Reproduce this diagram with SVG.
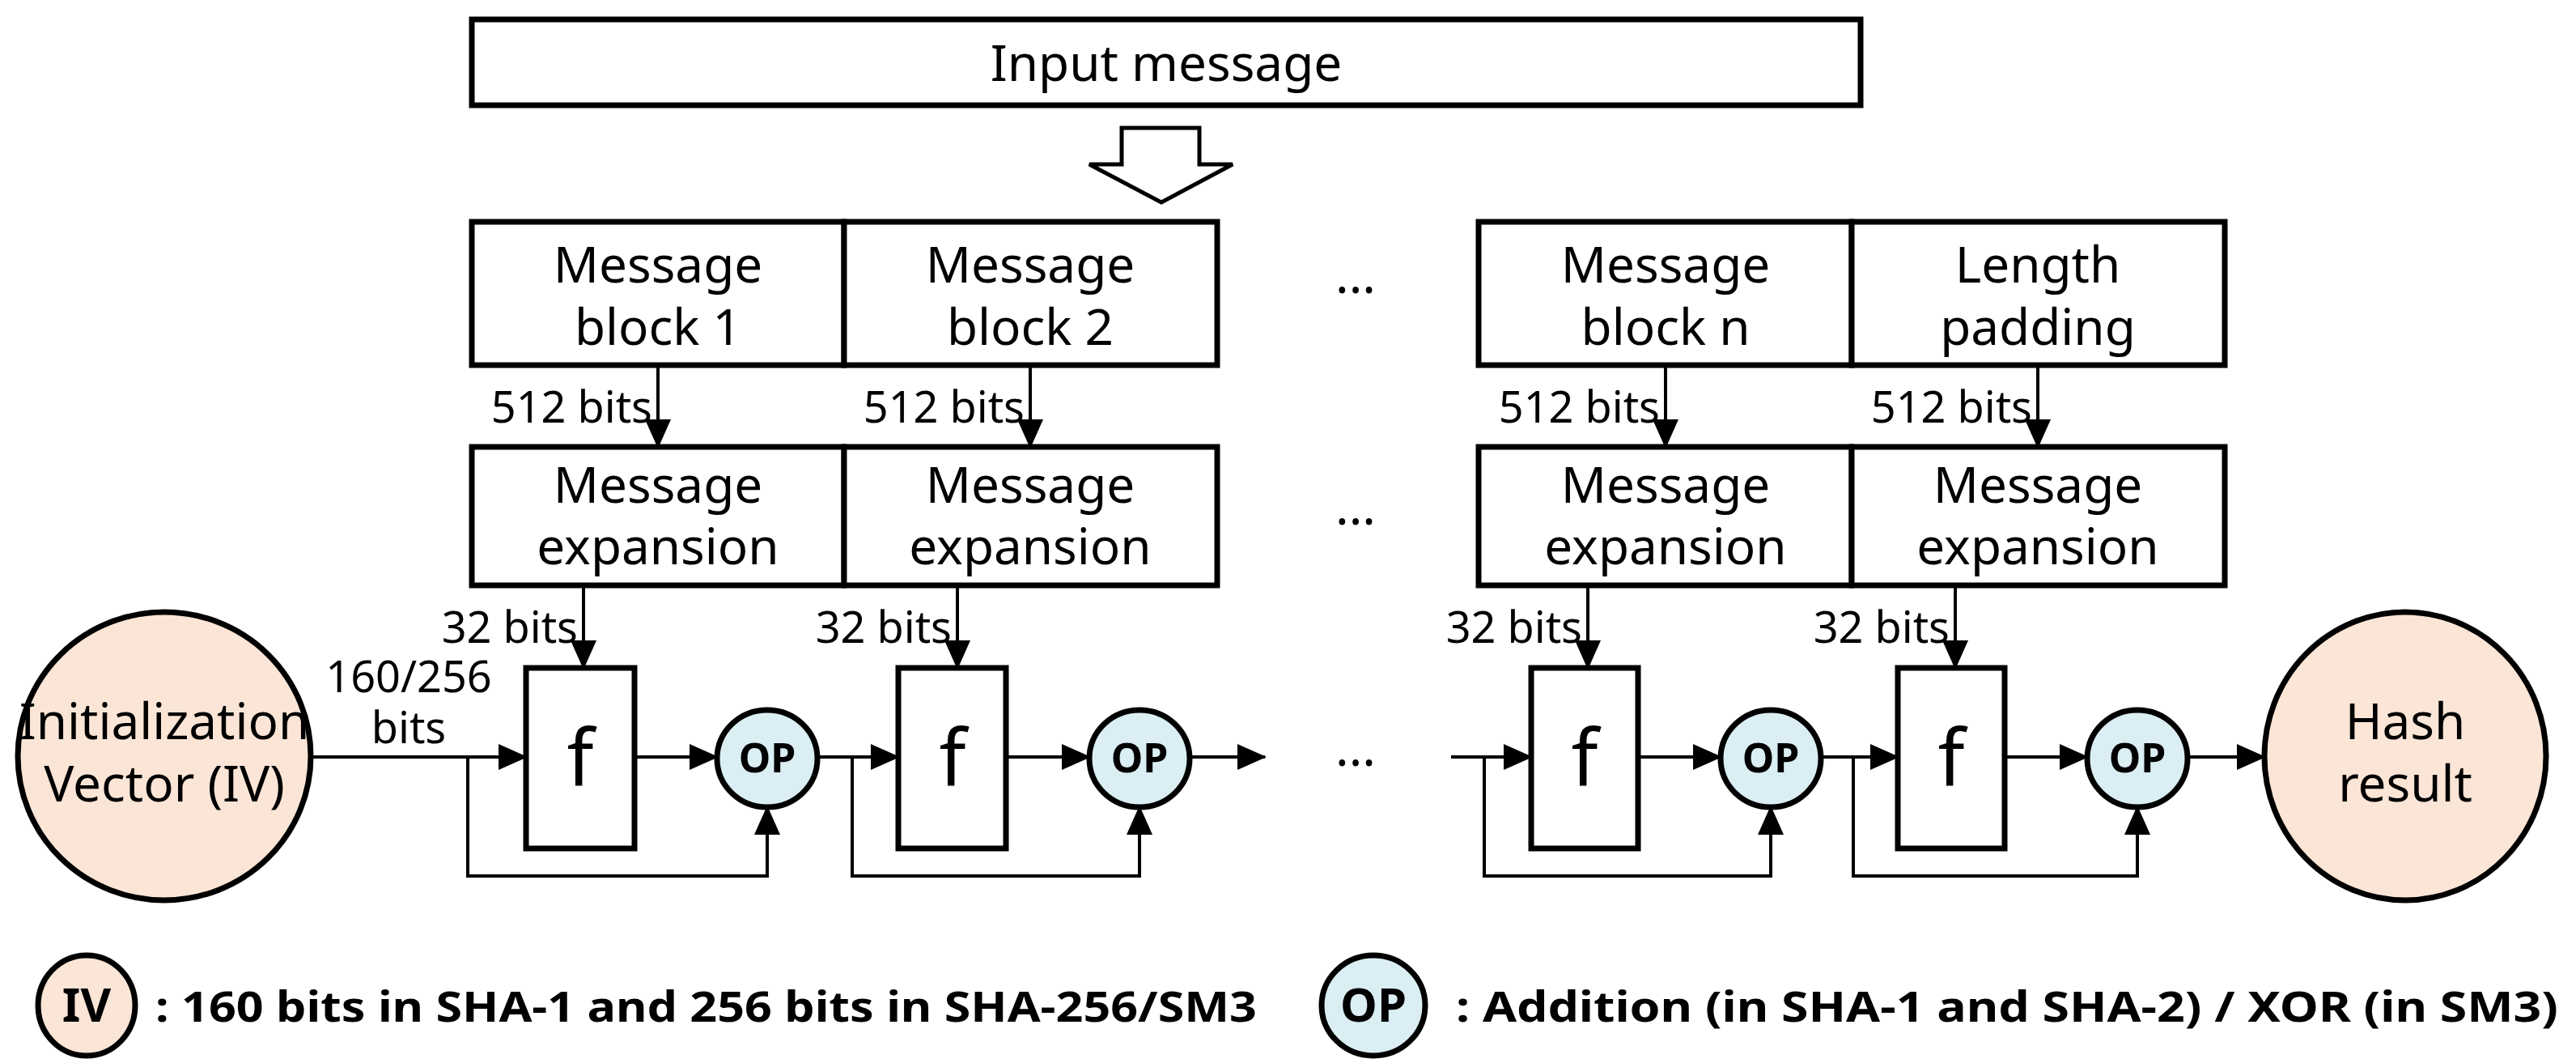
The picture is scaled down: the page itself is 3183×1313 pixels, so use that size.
<svg xmlns="http://www.w3.org/2000/svg" width="3183" height="1313" viewBox="0 0 3183 1313">
<style>
text{font-family:"Noto Sans","Open Sans","Liberation Sans",sans-serif;fill:#000;text-anchor:middle}
.box{fill:#fff;stroke:#000;stroke-width:7}
.big{font-size:62px}
.lbl{font-size:54px;text-anchor:end}
.op{fill:#daeef3;stroke:#000;stroke-width:7}
.iv{fill:#fbe5d6;stroke:#000;stroke-width:7}
.opt{font-size:50px;font-weight:bold}
.lgt{font-size:58px;font-weight:bold}
.ln{fill:none;stroke:#000;stroke-width:4}
.leg{font-size:52px;font-weight:bold;text-anchor:start}
</style>
<defs>
<marker id="ah" markerUnits="userSpaceOnUse" markerWidth="36" markerHeight="32" refX="34" refY="16" orient="auto">
<path d="M0,0 L36,16 L0,32 Z" fill="#000"/>
</marker>
</defs>
<g id="input">
<rect class="box" x="583" y="24" width="1716" height="106"/>
<text class="big" x="1441" y="100" font-size="66">Input message</text>
</g>
<g id="bigarrow">
<path d="M1386,158 H1482 V203 H1523 L1435,250 L1346,203 H1386 Z" fill="#fff" stroke="#000" stroke-width="5"/>
</g>
<g id="block1"><rect class="box" x="583" y="274" width="460" height="177"/><text class="big" x="813" y="349">Message</text><text class="big" x="813" y="426">block 1</text></g>
<g id="block2"><rect class="box" x="1043" y="274" width="461" height="177"/><text class="big" x="1273" y="349">Message</text><text class="big" x="1273" y="426">block 2</text></g>
<g id="blockn"><rect class="box" x="1827" y="274" width="461" height="177"/><text class="big" x="2058" y="349">Message</text><text class="big" x="2058" y="426">block n</text></g>
<g id="padding"><rect class="box" x="2288" y="274" width="461" height="177"/><text class="big" x="2518" y="349">Length</text><text class="big" x="2518" y="426">padding</text></g>
<g id="exp1"><rect class="box" x="583" y="552" width="460" height="171"/><text class="big" x="813" y="621">Message</text><text class="big" x="813" y="697">expansion</text></g>
<g id="exp2"><rect class="box" x="1043" y="552" width="461" height="171"/><text class="big" x="1273" y="621">Message</text><text class="big" x="1273" y="697">expansion</text></g>
<g id="expn"><rect class="box" x="1827" y="552" width="461" height="171"/><text class="big" x="2058" y="621">Message</text><text class="big" x="2058" y="697">expansion</text></g>
<g id="expp"><rect class="box" x="2288" y="552" width="461" height="171"/><text class="big" x="2518" y="621">Message</text><text class="big" x="2518" y="697">expansion</text></g>
<g id="dots">
<text class="big" x="1675" y="362" font-size="54">...</text>
<text class="big" x="1675" y="648" font-size="54">...</text>
<text class="big" x="1675" y="946" font-size="54">...</text>
</g>
<g id="f1"><rect class="box" x="650" y="825" width="134" height="223"/><text x="717" y="970" font-size="96">f</text></g>
<g id="f2"><rect class="box" x="1110" y="825" width="133" height="223"/><text x="1177" y="970" font-size="96">f</text></g>
<g id="f3"><rect class="box" x="1892" y="825" width="132" height="223"/><text x="1958" y="970" font-size="96">f</text></g>
<g id="f4"><rect class="box" x="2345" y="825" width="132" height="223"/><text x="2411" y="970" font-size="96">f</text></g>
<g id="op1"><ellipse class="op" cx="948" cy="937" rx="62" ry="60"/><text class="opt" x="948" y="954">OP</text></g>
<g id="op2"><ellipse class="op" cx="1408" cy="937" rx="62" ry="60"/><text class="opt" x="1408" y="954">OP</text></g>
<g id="op3"><ellipse class="op" cx="2188" cy="937" rx="62" ry="60"/><text class="opt" x="2188" y="954">OP</text></g>
<g id="op4"><ellipse class="op" cx="2641" cy="937" rx="62" ry="60"/><text class="opt" x="2641" y="954">OP</text></g>
<g id="iv"><ellipse class="iv" cx="203" cy="934" rx="181" ry="178"/><text class="big" x="203" y="913" font-size="52">Initialization</text><text class="big" x="203" y="990" font-size="52">Vector (IV)</text></g>
<g id="hash"><ellipse class="iv" cx="2972" cy="934" rx="174" ry="178"/><text class="big" x="2972" y="913">Hash</text><text class="big" x="2972" y="990">result</text></g>
<g id="connectors">
<path class="ln" marker-end="url(#ah)" d="M813,451 V552"/>
<path class="ln" marker-end="url(#ah)" d="M1273,451 V552"/>
<path class="ln" marker-end="url(#ah)" d="M2058,451 V552"/>
<path class="ln" marker-end="url(#ah)" d="M2518,451 V552"/>
<path class="ln" marker-end="url(#ah)" d="M721,723 V825"/>
<path class="ln" marker-end="url(#ah)" d="M1183,723 V825"/>
<path class="ln" marker-end="url(#ah)" d="M1962,723 V825"/>
<path class="ln" marker-end="url(#ah)" d="M2416,723 V825"/>
<path class="ln" marker-end="url(#ah)" d="M384,935 H650"/>
<path class="ln" marker-end="url(#ah)" d="M784,935 H886"/>
<path class="ln" marker-end="url(#ah)" d="M1010,935 H1110"/>
<path class="ln" marker-end="url(#ah)" d="M1243,935 H1346"/>
<path class="ln" marker-end="url(#ah)" d="M1470,935 H1563"/>
<path class="ln" marker-end="url(#ah)" d="M1793,935 H1892"/>
<path class="ln" marker-end="url(#ah)" d="M2024,935 H2126"/>
<path class="ln" marker-end="url(#ah)" d="M2250,935 H2345"/>
<path class="ln" marker-end="url(#ah)" d="M2477,935 H2579"/>
<path class="ln" marker-end="url(#ah)" d="M2703,935 H2798"/>
<path class="ln" marker-end="url(#ah)" d="M578,935 V1082 H948 V997"/>
<path class="ln" marker-end="url(#ah)" d="M1053,935 V1082 H1408 V997"/>
<path class="ln" marker-end="url(#ah)" d="M1834,935 V1082 H2188 V997"/>
<path class="ln" marker-end="url(#ah)" d="M2290,935 V1082 H2641 V997"/>
</g>
<g id="labels">
<text class="lbl" x="806" y="522">512 bits</text>
<text class="lbl" x="1266" y="522">512 bits</text>
<text class="lbl" x="2051" y="522">512 bits</text>
<text class="lbl" x="2511" y="522">512 bits</text>
<text class="lbl" x="714" y="794">32 bits</text>
<text class="lbl" x="1176" y="794">32 bits</text>
<text class="lbl" x="1955" y="794">32 bits</text>
<text class="lbl" x="2409" y="794">32 bits</text>
<text class="lbl" x="505" y="855" style="text-anchor:middle">160/256</text>
<text class="lbl" x="505" y="918" style="text-anchor:middle">bits</text>
</g>
<g id="legend-iv"><ellipse class="iv" cx="107" cy="1242" rx="60" ry="62"/><text class="lgt" x="107" y="1262">IV</text><text class="leg" x="192" y="1262" textLength="1361" lengthAdjust="spacingAndGlyphs">: 160 bits in SHA-1 and 256 bits in SHA-256/SM3</text></g>
<g id="legend-op"><ellipse class="op" cx="1697" cy="1242" rx="64" ry="62"/><text class="lgt" x="1697" y="1262">OP</text><text class="leg" x="1799" y="1262" textLength="1362" lengthAdjust="spacingAndGlyphs">: Addition (in SHA-1 and SHA-2) / XOR (in SM3)</text></g>
</svg>
